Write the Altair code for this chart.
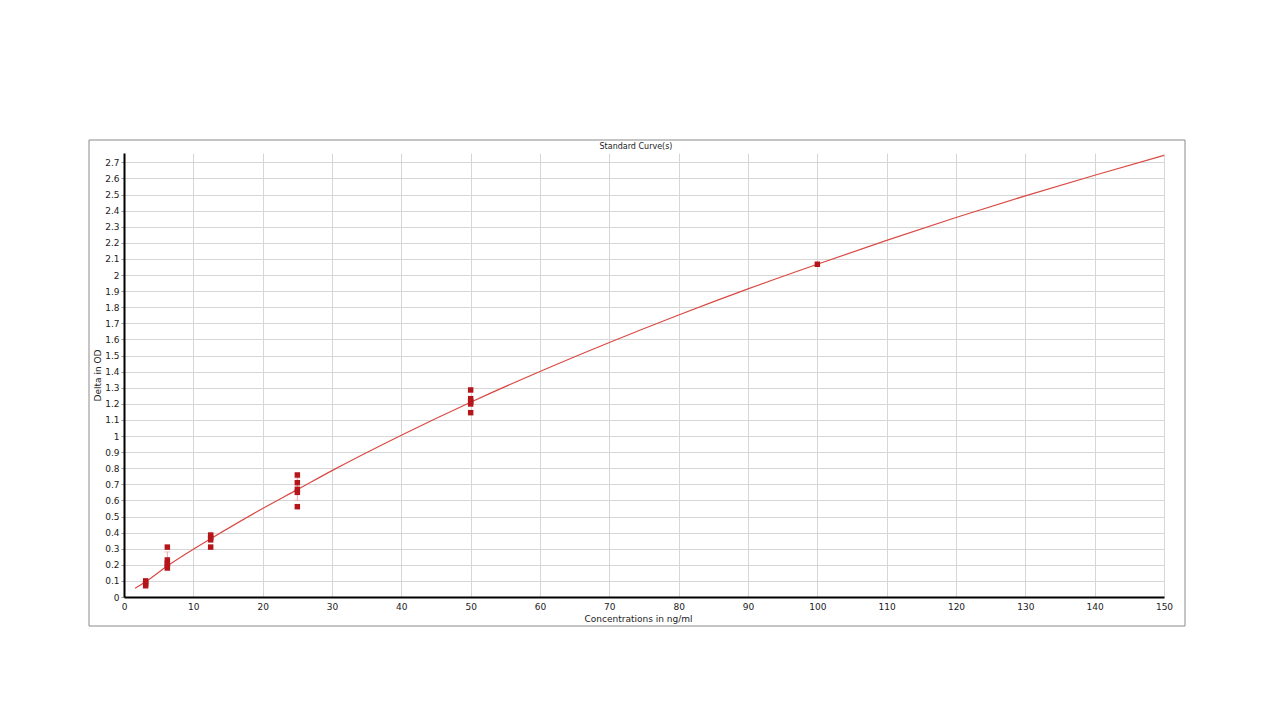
import altair as alt
import pandas as pd

# ---- data ----
std_conc = [3.125, 3.125, 3.125,
            6.25, 6.25, 6.25, 6.25, 6.25,
            12.5, 12.5, 12.5, 12.5,
            25, 25, 25, 25, 25,
            50, 50, 50, 50, 50,
            100]
std_od = [0.07, 0.085, 0.10,
          0.31, 0.23, 0.21, 0.195, 0.18,
          0.385, 0.37, 0.355, 0.31,
          0.758, 0.71, 0.669, 0.65, 0.561,
          1.286, 1.232, 1.213, 1.199, 1.145,
          2.067]

curve_conc = [1.6, 3.125, 6.25, 10, 12.5, 20, 25, 30, 40, 50, 60, 70, 80, 90, 100, 110, 120, 130, 140, 150]
curve_od = [0.055, 0.095, 0.193, 0.297, 0.362, 0.55, 0.667, 0.785, 1.005, 1.21, 1.401, 1.581, 1.752,
            1.914, 2.067, 2.215, 2.357, 2.492, 2.62, 2.743]

err_conc = [6.25, 25]
err_low = [0.195, 0.60]
err_high = [0.28, 0.74]

x_ticks = list(range(0, 151, 10))
y_ticks = [round(i * 0.1, 1) for i in range(0, 28)]

chart_title = "Standard Curve(s)"
x_title = "Concentrations in ng/ml"
y_title = "Delta in OD"

FONT = "DejaVu Sans"
W, H = 1040, 444

pts = pd.DataFrame({"conc": std_conc, "od": std_od})
curve = pd.DataFrame({"conc": curve_conc, "od": curve_od})
err = pd.DataFrame({"conc": err_conc, "lo": err_low, "hi": err_high})
deco = pd.DataFrame({"t": [chart_title]})

xscale = alt.Scale(domain=[0, 150], nice=False, zero=False)
yscale = alt.Scale(domain=[0, 2.758], nice=False, zero=False)

xaxis = alt.Axis(values=x_ticks, tickCount=100, title=x_title, grid=True, gridColor="#d6d6d6", gridWidth=1,
                 domainColor="#000000", domainWidth=2, ticks=False, labelPadding=5,
                 labelFlush=False, labelOverlap=False,
                 labelFont=FONT, labelFontSize=9, labelColor="#222222",
                 titleFont=FONT, titleFontSize=9, titleFontWeight="normal", titleColor="#222222",
                 titleBaseline="alphabetic", titleY=24, titleX=514, titleAnchor="start",
                 titleAlign="center")
yaxis = alt.Axis(values=y_ticks, tickCount=100, format=".1~f", title=y_title, grid=True, gridColor="#d6d6d6",
                 gridWidth=1, domainColor="#000000", domainWidth=2, ticks=True, tickSize=3,
                 tickColor="#999999", labelPadding=2, labelFlush=False, labelOverlap=False,
                 labelFont=FONT, labelFontSize=9, labelColor="#222222",
                 titleFont=FONT, titleFontSize=9, titleFontWeight="normal", titleColor="#222222",
                 titleAngle=270, titleX=-27, titleY=222, titleAlign="center", titleBaseline="middle")

border = alt.Chart(deco).mark_rect(fill="transparent", stroke="#8a8a8a", strokeWidth=1).encode(
    x=alt.value(-35), x2=alt.value(1061), y=alt.value(-13), y2=alt.value(473)
)

title_mark = alt.Chart(deco).mark_text(font=FONT, fontSize=8, color="#222222", baseline="middle").encode(
    x=alt.value(512), y=alt.value(-6), text="t:N"
)

line = alt.Chart(curve).mark_line(color="#d94a44", strokeWidth=1.2, interpolate="monotone").encode(
    x=alt.X("conc:Q", scale=xscale, axis=xaxis),
    y=alt.Y("od:Q", scale=yscale, axis=yaxis),
)

ebar = alt.Chart(err).mark_rule(color="#f0a8a8", strokeWidth=1).encode(
    x="conc:Q", y="lo:Q", y2="hi:Q"
)
cap_lo = alt.Chart(err).mark_tick(color="#f0a8a8", orient="horizontal", size=6, thickness=1).encode(
    x="conc:Q", y="lo:Q"
)
cap_hi = alt.Chart(err).mark_tick(color="#f0a8a8", orient="horizontal", size=6, thickness=1).encode(
    x="conc:Q", y="hi:Q"
)

points = alt.Chart(pts).mark_square(color="#b5161b", opacity=1, size=30).encode(
    x="conc:Q", y="od:Q"
)

chart = alt.layer(border, line, ebar, cap_lo, cap_hi, points, title_mark).properties(
    width=W, height=H,
    autosize=alt.AutoSizeParams(type="none"),
    padding={"left": 116, "top": 145, "right": 40, "bottom": 90},
    background="white",
).configure_view(strokeWidth=0)

chart.save("out.html", embed_options={"renderer": "svg", "actions": False})
